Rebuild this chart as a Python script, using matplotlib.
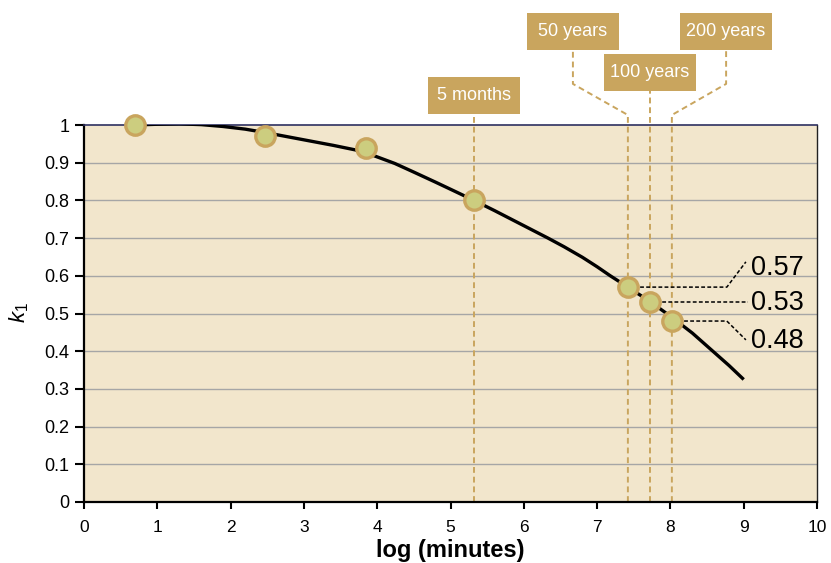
import matplotlib
matplotlib.use("Agg")
from matplotlib import pyplot as plt
from matplotlib.patches import Rectangle

plt.rcParams["font.family"] = ["Liberation Sans", "DejaVu Sans"]
plt.rcParams["mathtext.fontset"] = "custom"
plt.rcParams["mathtext.rm"] = "Liberation Sans"
plt.rcParams["mathtext.it"] = "Liberation Sans:italic"

# measured points (log minutes, k1)
point_x = [0.69, 2.47, 3.85, 5.32, 7.42, 7.72, 8.02]
point_k = [1.0, 0.972, 0.939, 0.80, 0.57, 0.53, 0.48]

# fitted curve
curve_x = [0.69, 1.0, 1.3, 1.6, 1.9, 2.2, 2.5, 2.8, 3.1, 3.4, 3.7, 3.95,
           4.24, 4.5, 4.8, 5.05, 5.32, 5.6, 5.85, 6.1, 6.33, 6.55, 6.8,
           7.0, 7.18, 7.42, 7.72, 8.02, 8.3, 8.55, 8.8, 9.0]
curve_k = [1.0, 1.002, 1.003, 1.001, 0.996, 0.989, 0.979, 0.968, 0.957,
           0.946, 0.934, 0.919, 0.898, 0.875, 0.848, 0.825, 0.80, 0.773,
           0.748, 0.723, 0.70, 0.677, 0.649, 0.624, 0.60, 0.57, 0.532, 0.49,
           0.448, 0.405, 0.362, 0.325]

# time markers
event_labels = ["5 months", "50 years", "100 years", "200 years"]
event_x = [5.32, 7.42, 7.72, 8.02]

value_labels = ["0.57", "0.53", "0.48"]

x_ticks = list(range(0, 11))
y_ticks = [i / 10 for i in range(0, 11)]
y_ticklabels = ["0", "0.1", "0.2", "0.3", "0.4", "0.5", "0.6", "0.7", "0.8", "0.9", "1"]

gold = "#C9A55E"
bg = "#F2E6CC"

fig = plt.figure(figsize=(8.31, 5.63), dpi=100)
ax = fig.add_axes([84 / 831, 61 / 563, 733 / 831, 377 / 563])
ax.set_facecolor(bg)
ax.set_xlim(0, 10)
ax.set_ylim(0, 1)

# --- grid ---
for y in y_ticks[1:-1]:
    ax.axhline(y, color="#A6A6A6", lw=1.0, zorder=1)

# --- spines / ticks ---
ax.spines["left"].set_linewidth(1.6)
ax.spines["bottom"].set_linewidth(1.6)
ax.spines["top"].set_color("#2E3060")
ax.spines["top"].set_linewidth(1.2)
ax.spines["right"].set_color("#222222")
ax.spines["right"].set_linewidth(1.0)
ax.set_xticks(x_ticks)
ax.set_yticks(y_ticks)
ax.set_yticklabels(y_ticklabels)
ax.tick_params(axis="y", direction="out", length=6.5, width=1.5, pad=4, labelsize=13)
ax.tick_params(axis="x", direction="out", length=5, width=1.5, pad=8, labelsize=12.5)

# --- golden leader lines for the time markers ---
dash_gold = dict(color=gold, lw=1.4, ls=(0, (3, 2)), clip_on=False, zorder=2)
y_top = 1.0265
ax.plot([event_x[0], event_x[0]], [0, y_top], **dash_gold)
ax.plot([event_x[1], event_x[1], 6.67, 6.67], [0, y_top, 1.109, 1.199], **dash_gold)
ax.plot([event_x[2], event_x[2]], [0, 1.09], **dash_gold)
ax.plot([event_x[3], event_x[3], 8.76, 8.76], [0, y_top, 1.109, 1.199], **dash_gold)

box_cx = [5.32, 6.67, 7.72, 8.76]
box_cy = [1.0782, 1.248, 1.139, 1.248]
box_w = 92 / 73.3
box_h = 37 / 377
for lab, cx, cy in zip(event_labels, box_cx, box_cy):
    ax.add_patch(Rectangle((cx - box_w / 2, cy - box_h / 2), box_w, box_h,
                           facecolor=gold, edgecolor="none", clip_on=False, zorder=5))
    ax.text(cx, cy, lab, color="white", fontsize=13, ha="center", va="center",
            clip_on=False, zorder=6)

# --- curve and points ---
ax.plot(curve_x, curve_k, color="black", lw=2.4, zorder=3, solid_capstyle="butt",
        solid_joinstyle="round")
ax.plot(point_x, point_k, "o", ms=14, mfc="#CCCD7F", mec=gold, mew=2.4,
        zorder=4, clip_on=False)

# --- value callouts ---
dash_k = dict(color="black", lw=1.1, ls=(0, (2.5, 1.5)), clip_on=False, zorder=2)
ax.plot([point_x[4], 8.77, 9.03], [point_k[4], point_k[4], 0.637], **dash_k)
ax.plot([point_x[5], 9.06], [point_k[5], point_k[5]], **dash_k)
ax.plot([point_x[6], 8.77, 9.03], [point_k[6], point_k[6], 0.43], **dash_k)
for lab, y in zip(value_labels, [0.621, 0.528, 0.427]):
    ax.text(9.1, y, lab, fontsize=19.5, ha="left", va="center", zorder=6)

# --- axis titles ---
fig.text(450 / 831, 6 / 563, "log (minutes)", fontsize=17, fontweight="bold",
         ha="center", va="baseline")
fig.text(19 / 831, 250 / 563, r"$k_1$", fontsize=16, rotation=90,
         ha="center", va="center")

fig.savefig("out.png", dpi=100)
